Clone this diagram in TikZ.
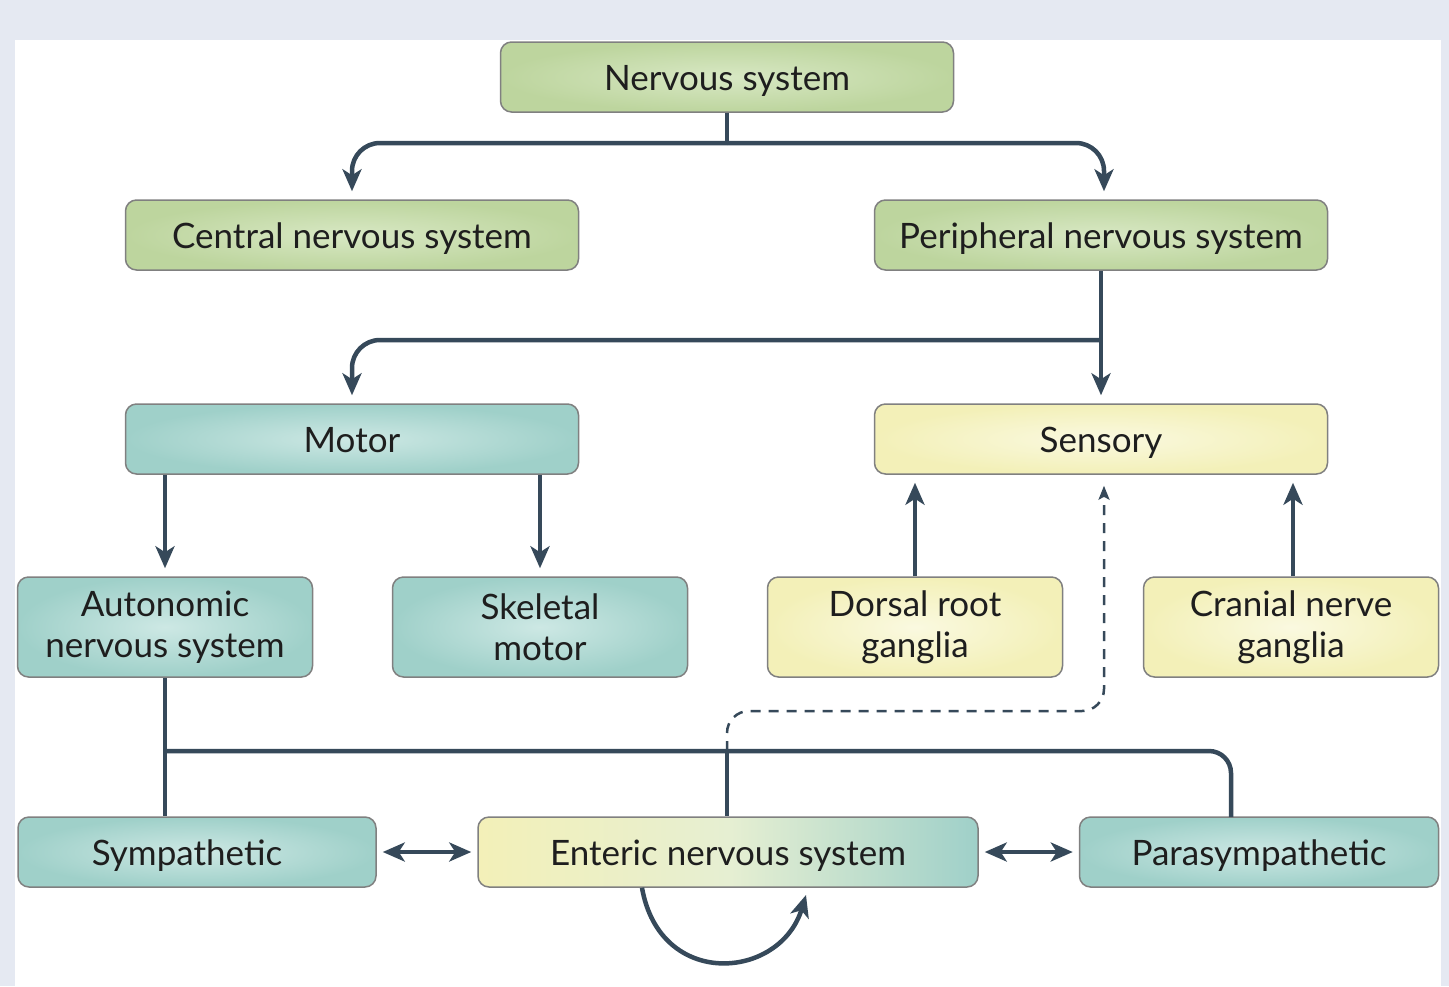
\documentclass[tikz,border=0pt]{standalone}
\usepackage{fontspec}
\setmainfont{Lato}
\usetikzlibrary{arrows.meta,calc}
\definecolor{bgblue}{HTML}{E5E9F2}
\definecolor{arrowc}{HTML}{36495A}
\definecolor{boxline}{HTML}{808080}
\definecolor{greenin}{HTML}{D8E8C4}
\definecolor{greenout}{HTML}{BDD59E}
\definecolor{tealin}{HTML}{CDE8E4}
\definecolor{tealout}{HTML}{9FD0C9}
\definecolor{yelin}{HTML}{FAF9E0}
\definecolor{yelout}{HTML}{F3F0B8}
\definecolor{entmid}{HTML}{E6EFD2}
\definecolor{txt}{HTML}{1E1E1E}
\tikzset{
  box/.style={draw=boxline, line width=1.5pt, rounded corners=11pt, text=txt,
    font=\fontsize{35}{41}\selectfont, align=center, inner sep=0pt},
  oneline/.style={text height=26pt, text depth=0pt},
  widebox/.style={box, oneline, minimum width=453pt, minimum height=70pt},
  smallbox/.style={box, minimum width=295pt, minimum height=100pt},
  greenbox/.style={inner color=greenin, outer color=greenout},
  tealbox/.style={inner color=tealin, outer color=tealout},
  yelbox/.style={inner color=yelin, outer color=yelout},
  conn/.style={draw=arrowc, line width=4.5pt},
  tip/.style={-{Stealth[length=22pt,width=19pt,inset=6pt]}},
  arr/.style={conn, tip, shorten >=8pt},
  darr/.style={conn, {Stealth[length=22pt,width=19pt,inset=6pt]}-{Stealth[length=22pt,width=19pt,inset=6pt]}, shorten >=6pt, shorten <=6pt},
  dasharr/.style={draw=arrowc, line width=2.5pt, dash pattern=on 10pt off 8pt,
    -{Stealth[length=14pt,width=11pt,inset=3pt]}, shorten >=11pt},
}
\begin{document}
\begin{tikzpicture}[x=1pt,y=-1pt]
\useasboundingbox (0,0) rectangle (1449,986);
\fill[bgblue] (0,0) rectangle (1449,986);
\fill[white] (15,40) rectangle (1441,986);

% nodes
\node[widebox, greenbox] (ns) at (727,77) {Nervous system};
\node[widebox, greenbox] (cns) at (352,235) {Central nervous system};
\node[widebox, greenbox] (pns) at (1101,235) {Peripheral nervous system};
\node[widebox, tealbox] (motor) at (352,439) {Motor};
\node[widebox, yelbox] (sens) at (1101,439) {Sensory};
\node[smallbox, tealbox] (aut) at (165,627) {Autonomic\\nervous system};
\node[smallbox, tealbox] (skel) at (540,627) {Skeletal\\motor};
\node[smallbox, yelbox] (drg) at (915,627) {Dorsal root\\ganglia};
\node[smallbox, yelbox] (cng) at (1291,627) {Cranial nerve\\ganglia};
\node[box, oneline, tealbox, minimum width=358pt, minimum height=70pt] (symp) at (197,852) {Sympathetic\hspace*{20pt}};
\node[box, oneline, minimum width=500pt, minimum height=70pt, left color=yelout, right color=tealout, middle color=entmid] (ent) at (728,852) {Enteric nervous system};
\node[box, oneline, tealbox, minimum width=359pt, minimum height=70pt] (para) at (1259,852) {Parasympathetic};

% coordinates
\coordinate (j1) at (727,143);
\coordinate (j2) at (1101,340);
\coordinate (j3) at (727,751);
\coordinate (j4) at (165,751);
\coordinate (d1) at (1104,711);
\coordinate (p1) at (1231,817);
\coordinate (loopend) at (806,895);

% connectors
\draw[conn] (ns.south) -- (j1);
\draw[arr, rounded corners=28pt] (j1) -| (cns);
\draw[arr, rounded corners=28pt] (j1) -| ([xshift=3pt]pns.north);
\draw[arr] (pns) -- (sens);
\draw[arr, rounded corners=28pt] (j2) -| (motor);
\draw[arr] (motor.south -| aut) -- (aut);
\draw[arr] (motor.south -| skel) -- (skel);
\draw[arr] (drg) -- (drg |- sens.south);
\draw[arr] ([xshift=2pt]cng.north) -- ([xshift=2pt]cng.north |- sens.south);
\draw[dasharr, rounded corners=22pt] (j3) |- (d1) -- (d1 |- sens.south);
\draw[conn] (aut.south) -- (aut.south |- symp.north);
\draw[conn, rounded corners=22pt] (j4) -| (p1);
\draw[conn] (j3) -- (j3 |- ent.north);
\draw[darr] (symp) -- (ent);
\draw[darr] (ent) -- (para);
\draw[conn, tip] ($(ent.south)+(-86,0)$) .. controls (660,990) and (780,980) .. (loopend);
\end{tikzpicture}
\end{document}
